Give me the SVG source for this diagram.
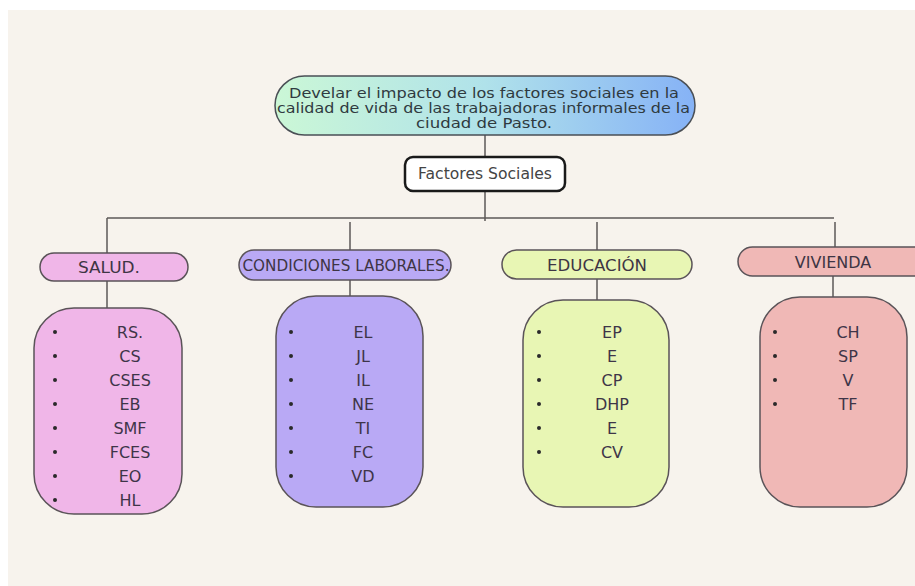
<svg xmlns="http://www.w3.org/2000/svg" width="915" height="586" viewBox="0 0 915 586">
<defs>
<linearGradient id="g1" x1="0" y1="0" x2="1" y2="0">
<stop offset="0" stop-color="#cbf7d6"/>
<stop offset="0.5" stop-color="#b0e2ea"/>
<stop offset="1" stop-color="#86b2f6"/>
</linearGradient>
<style>
text{font-family:"DejaVu Sans","Liberation Sans",sans-serif;text-anchor:middle}
.c{fill:none;stroke:#5e5a58;stroke-width:1.5}
.b{stroke:#5a5358;stroke-width:1.5}
.h{font-size:16px;fill:#3e3544}
.i{font-size:16px;fill:#3e3548}
.t{font-size:14px;fill:#2f3a40}
.d{fill:#2a2a2a}
</style>
</defs>
<rect x="0" y="0" width="915" height="586" fill="#ffffff"/>
<rect x="8" y="10" width="907" height="576" fill="#f7f3ed"/>
<g id="connectors">
<path class="c" d="M485 135V157M485 191V221M107 218H834M107 218V253M350 222V250M597 222V250M835 222V247M107 281V308M350 280V296M597 279V300M833 276V297"/>
</g>
<g id="objetivo">
<rect x="275" y="76" width="420" height="59" rx="29.5" fill="url(#g1)" stroke="#4a4f55" stroke-width="1.5"/>
<text class="t" x="484" y="98" textLength="390" lengthAdjust="spacingAndGlyphs">Develar el impacto de los factores sociales en la</text>
<text class="t" x="483.5" y="113" textLength="413" lengthAdjust="spacingAndGlyphs">calidad de vida de las trabajadoras informales de la</text>
<text class="t" x="484" y="128" textLength="136" lengthAdjust="spacingAndGlyphs">ciudad de Pasto.</text>
</g>
<g id="factores">
<rect x="405" y="157" width="160" height="34" rx="8" fill="#ffffff" stroke="#1a1a1a" stroke-width="2.5"/>
<text x="485" y="179" font-size="15" fill="#444" textLength="134" lengthAdjust="spacingAndGlyphs">Factores Sociales</text>
</g>
<g id="salud">
<rect class="b" x="40" y="253" width="148" height="28" rx="14" fill="#f0b6e8"/>
<text class="h" x="109" y="273" textLength="62" lengthAdjust="spacingAndGlyphs">SALUD.</text>
</g>
<g id="condiciones">
<rect class="b" x="239" y="250" width="212" height="30" rx="15" fill="#b9a9f5"/>
<text class="h" x="346" y="271" font-size="15" textLength="207" lengthAdjust="spacingAndGlyphs">CONDICIONES LABORALES.</text>
</g>
<g id="educacion">
<rect class="b" x="502" y="250" width="190" height="29" rx="14.5" fill="#e8f6b4"/>
<text class="h" x="597" y="271" fill="#3a3f2a" textLength="100" lengthAdjust="spacingAndGlyphs">EDUCACIÓN</text>
</g>
<g id="vivienda">
<rect class="b" x="738" y="247" width="200" height="29" rx="14.5" fill="#f0b8b6"/>
<text class="h" x="833" y="268" fill="#4a3535">VIVIENDA</text>
</g>
<g id="salud-items">
<rect class="b" x="34" y="308" width="148" height="206" rx="40" fill="#f0b6e8"/>
<g class="d"><circle cx="55" cy="332" r="2"/><circle cx="55" cy="356" r="2"/><circle cx="55" cy="380" r="2"/><circle cx="55" cy="404" r="2"/><circle cx="55" cy="428" r="2"/><circle cx="55" cy="452" r="2"/><circle cx="55" cy="476" r="2"/><circle cx="55" cy="500" r="2"/></g>
<text class="i" x="130" y="338">RS.</text>
<text class="i" x="130" y="362">CS</text>
<text class="i" x="130" y="386">CSES</text>
<text class="i" x="130" y="410">EB</text>
<text class="i" x="130" y="434">SMF</text>
<text class="i" x="130" y="458">FCES</text>
<text class="i" x="130" y="482">EO</text>
<text class="i" x="130" y="506">HL</text>
</g>
<g id="condiciones-items">
<rect class="b" x="276" y="296" width="147" height="211" rx="40" fill="#b9a9f5"/>
<g class="d"><circle cx="291" cy="332" r="2"/><circle cx="291" cy="356" r="2"/><circle cx="291" cy="380" r="2"/><circle cx="291" cy="404" r="2"/><circle cx="291" cy="428" r="2"/><circle cx="291" cy="452" r="2"/><circle cx="291" cy="476" r="2"/></g>
<text class="i" x="363" y="338">EL</text>
<text class="i" x="363" y="362">JL</text>
<text class="i" x="363" y="386">IL</text>
<text class="i" x="363" y="410">NE</text>
<text class="i" x="363" y="434">TI</text>
<text class="i" x="363" y="458">FC</text>
<text class="i" x="363" y="482">VD</text>
</g>
<g id="educacion-items">
<rect class="b" x="523" y="300" width="146" height="207" rx="40" fill="#e8f6b4"/>
<g class="d"><circle cx="539" cy="332" r="2"/><circle cx="539" cy="356" r="2"/><circle cx="539" cy="380" r="2"/><circle cx="539" cy="404" r="2"/><circle cx="539" cy="428" r="2"/><circle cx="539" cy="452" r="2"/></g>
<text class="i" x="612" y="338" fill="#3a3f2a">EP</text>
<text class="i" x="612" y="362" fill="#3a3f2a">E</text>
<text class="i" x="612" y="386" fill="#3a3f2a">CP</text>
<text class="i" x="612" y="410" fill="#3a3f2a">DHP</text>
<text class="i" x="612" y="434" fill="#3a3f2a">E</text>
<text class="i" x="612" y="458" fill="#3a3f2a">CV</text>
</g>
<g id="vivienda-items">
<rect class="b" x="760" y="297" width="147" height="210" rx="40" fill="#f0b8b6"/>
<g class="d"><circle cx="775" cy="332" r="2"/><circle cx="775" cy="356" r="2"/><circle cx="775" cy="380" r="2"/><circle cx="775" cy="404" r="2"/></g>
<text class="i" x="848" y="338" fill="#4a3535">CH</text>
<text class="i" x="848" y="362" fill="#4a3535">SP</text>
<text class="i" x="848" y="386" fill="#4a3535">V</text>
<text class="i" x="848" y="410" fill="#4a3535">TF</text>
</g>
</svg>
